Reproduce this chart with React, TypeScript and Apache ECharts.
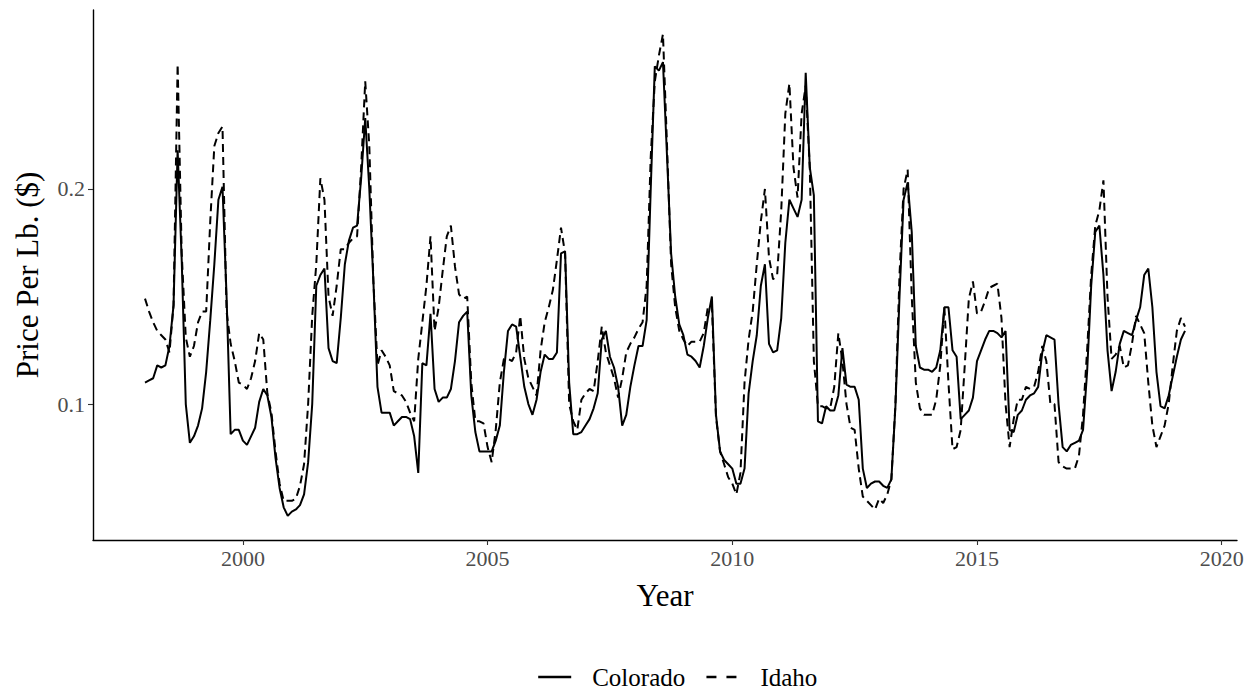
import React, { useEffect, useRef } from "react";
import * as echarts from "echarts";

const START_YEAR = 1998;
const SERIES_NAMES = ["Colorado", "Idaho"];
const X_TICKS = [2000, 2005, 2010, 2015, 2020];
const Y_TICKS = [0.1, 0.2];

// Monthly prices, Jan 1998 - Apr 2019
const coloradoPrices = [
  0.110, 0.111, 0.112, 0.118, 0.117, 0.118, 0.127, 0.146, 0.218, 0.167, 0.100, 0.082,
  0.085, 0.090, 0.098, 0.115, 0.139, 0.165, 0.195, 0.201, 0.150, 0.086, 0.088, 0.088,
  0.083, 0.081, 0.085, 0.089, 0.101, 0.107, 0.104, 0.094, 0.075, 0.061, 0.052, 0.048,
  0.050, 0.051, 0.053, 0.058, 0.073, 0.100, 0.155, 0.160, 0.163, 0.126, 0.120, 0.119,
  0.140, 0.165, 0.176, 0.182, 0.183, 0.205, 0.233, 0.200, 0.157, 0.108, 0.096, 0.096,
  0.096, 0.090, 0.092, 0.094, 0.094, 0.093, 0.085, 0.068, 0.119, 0.118, 0.142, 0.107,
  0.101, 0.103, 0.103, 0.107, 0.120, 0.138, 0.141, 0.143, 0.104, 0.087, 0.078, 0.078,
  0.078, 0.078, 0.083, 0.090, 0.115, 0.134, 0.137, 0.136, 0.122, 0.108, 0.100, 0.095,
  0.102, 0.115, 0.123, 0.121, 0.121, 0.124, 0.170, 0.171, 0.110, 0.086, 0.086, 0.087,
  0.090, 0.093, 0.098, 0.105, 0.130, 0.134, 0.122, 0.117, 0.108, 0.090, 0.095, 0.108,
  0.118, 0.127, 0.127, 0.139, 0.200, 0.257, 0.255, 0.259, 0.215, 0.170, 0.150, 0.137,
  0.132, 0.123, 0.122, 0.120, 0.117, 0.127, 0.140, 0.150, 0.095, 0.078, 0.074, 0.072,
  0.070, 0.063, 0.063, 0.070, 0.105, 0.120, 0.132, 0.155, 0.165, 0.128, 0.124, 0.125,
  0.140, 0.175, 0.195, 0.191, 0.187, 0.195, 0.254, 0.210, 0.197, 0.092, 0.091, 0.099,
  0.097, 0.097, 0.104, 0.126, 0.109, 0.108, 0.108, 0.102, 0.070, 0.061, 0.063, 0.064,
  0.064, 0.062, 0.061, 0.065, 0.099, 0.150, 0.195, 0.203, 0.180, 0.127, 0.117, 0.116,
  0.116, 0.115, 0.117, 0.125, 0.145, 0.145, 0.125, 0.122, 0.093, 0.095, 0.097, 0.103,
  0.120, 0.125, 0.130, 0.134, 0.134, 0.133, 0.131, 0.134, 0.088, 0.087, 0.095, 0.097,
  0.102, 0.104, 0.105, 0.108, 0.124, 0.132, 0.131, 0.130, 0.100, 0.080, 0.078, 0.081,
  0.082, 0.083, 0.088, 0.115, 0.155, 0.180, 0.183, 0.160, 0.125, 0.106, 0.115, 0.128,
  0.134, 0.133, 0.132, 0.139, 0.145, 0.160, 0.163, 0.145, 0.115, 0.099, 0.098, 0.104,
  0.113, 0.122, 0.130, 0.134,
];

const idahoPrices = [
  0.149, 0.143, 0.138, 0.134, 0.132, 0.130, 0.124, 0.146, 0.258, 0.170, 0.131, 0.122,
  0.127, 0.138, 0.143, 0.143, 0.185, 0.220, 0.226, 0.229, 0.143, 0.128, 0.120, 0.110,
  0.109, 0.107, 0.112, 0.120, 0.133, 0.130, 0.105, 0.096, 0.078, 0.063, 0.055, 0.055,
  0.055, 0.056, 0.062, 0.072, 0.100, 0.141, 0.165, 0.205, 0.195, 0.150, 0.141, 0.155,
  0.172, 0.172, 0.175, 0.177, 0.178, 0.210, 0.250, 0.220, 0.157, 0.118, 0.125, 0.122,
  0.118, 0.106, 0.105, 0.104, 0.101, 0.096, 0.092, 0.121, 0.138, 0.155, 0.178, 0.134,
  0.145, 0.162, 0.178, 0.183, 0.164, 0.151, 0.149, 0.150, 0.110, 0.092, 0.092, 0.091,
  0.080, 0.073, 0.088, 0.110, 0.121, 0.121, 0.120, 0.124, 0.141, 0.121, 0.112, 0.108,
  0.104, 0.125, 0.138, 0.145, 0.153, 0.167, 0.182, 0.170, 0.100, 0.092, 0.088, 0.102,
  0.105, 0.107, 0.106, 0.120, 0.136, 0.124, 0.118, 0.112, 0.103, 0.112, 0.124, 0.128,
  0.131, 0.135, 0.138, 0.155, 0.215, 0.250, 0.262, 0.272, 0.220, 0.165, 0.145, 0.134,
  0.130, 0.127, 0.129, 0.129, 0.129, 0.133, 0.145, 0.146, 0.094, 0.078, 0.072, 0.066,
  0.063, 0.058, 0.068, 0.110, 0.130, 0.143, 0.165, 0.185, 0.200, 0.168, 0.158, 0.160,
  0.190, 0.235, 0.249, 0.210, 0.196, 0.235, 0.248, 0.210, 0.120, 0.099, 0.099, 0.098,
  0.098, 0.108, 0.133, 0.120, 0.100, 0.089, 0.088, 0.070, 0.057, 0.055, 0.053, 0.051,
  0.056, 0.054, 0.058, 0.065, 0.100, 0.160, 0.200, 0.209, 0.150, 0.110, 0.098, 0.095,
  0.095, 0.095, 0.102, 0.118, 0.145, 0.110, 0.079, 0.080, 0.088, 0.118, 0.149, 0.157,
  0.142, 0.143, 0.148, 0.154, 0.155, 0.156, 0.140, 0.100, 0.080, 0.093, 0.102, 0.102,
  0.108, 0.107, 0.108, 0.115, 0.127, 0.120, 0.100, 0.100, 0.073, 0.071, 0.070, 0.070,
  0.070, 0.076, 0.095, 0.125, 0.160, 0.183, 0.190, 0.204, 0.150, 0.121, 0.123, 0.127,
  0.117, 0.118, 0.128, 0.141, 0.137, 0.133, 0.110, 0.090, 0.080, 0.085, 0.090, 0.100,
  0.118, 0.134, 0.140, 0.136,
];

const FONT = "'Liberation Serif', 'DejaVu Serif', serif";

export default function App() {
  const ref = useRef<HTMLDivElement>(null);

  useEffect(() => {
    if (!ref.current) return;
    const chart = echarts.init(ref.current, null, { renderer: "svg" });
    const toPairs = (arr: number[]) => arr.map((v, i) => [START_YEAR + i / 12, v]);
    const allVals = coloradoPrices.concat(idahoPrices);
    const yMinData = Math.min(...allVals);
    const yMaxData = Math.max(...allVals);
    const yPad = (yMaxData - yMinData) * 0.05;
    const xMinData = START_YEAR;
    const xMaxData = START_YEAR + (coloradoPrices.length - 1) / 12;
    const xPad = (xMaxData - xMinData) * 0.05;

    chart.setOption({
      animation: false,
      backgroundColor: "#ffffff",
      grid: { left: 93, right: 19, top: 10, bottom: 150, containLabel: false },
      legend: {
        data: [
          { name: SERIES_NAMES[0], lineStyle: { type: "solid" } },
          { name: SERIES_NAMES[1], lineStyle: { type: [10, 10] } },
        ],
        top: 659,
        left: 532,
        itemWidth: 33,
        itemHeight: 14,
        itemGap: 20,
        itemStyle: { opacity: 0, borderWidth: 0 },
        lineStyle: { width: 2.4, color: "#000" },
        textStyle: {
          fontFamily: FONT,
          fontSize: 25,
          lineHeight: 26,
          color: "#000",
          padding: [0, 0, 0, 16],
        },
      },
      xAxis: {
        type: "value",
        min: xMinData - xPad,
        max: xMaxData + xPad,
        name: "Year",
        nameLocation: "middle",
        nameGap: 40,
        nameTextStyle: { fontFamily: FONT, fontSize: 31, color: "#000" },
        axisLine: { show: true, lineStyle: { color: "#000", width: 1.4 } },
        axisTick: { show: true, length: 5, customValues: X_TICKS, lineStyle: { color: "#333", width: 1.1 } },
        axisLabel: {
          customValues: X_TICKS,
          fontFamily: FONT,
          fontSize: 22,
          color: "#4d4d4d",
          margin: 7,
          formatter: (v: number) => String(Math.round(v)),
        },
        splitLine: { show: false },
      },
      yAxis: {
        type: "value",
        min: yMinData - yPad,
        max: yMaxData + yPad,
        name: "Price Per Lb. ($)",
        nameLocation: "middle",
        nameGap: 50,
        nameTextStyle: { fontFamily: FONT, fontSize: 31, color: "#000" },
        axisLine: { show: true, lineStyle: { color: "#000", width: 1.4 } },
        axisTick: { show: true, length: 5, customValues: Y_TICKS, lineStyle: { color: "#333", width: 1.1 } },
        axisLabel: {
          customValues: Y_TICKS,
          fontFamily: FONT,
          fontSize: 22,
          color: "#4d4d4d",
          margin: 8,
          formatter: (v: number) => String(Math.round(v * 10) / 10),
        },
        splitLine: { show: false },
      },
      series: [
        {
          name: SERIES_NAMES[0],
          type: "line",
          data: toPairs(coloradoPrices),
          showSymbol: false,
          symbol: "none",
          lineStyle: { color: "#000", width: 2, type: "solid" },
          itemStyle: { color: "#000" },
        },
        {
          name: SERIES_NAMES[1],
          type: "line",
          data: toPairs(idahoPrices),
          showSymbol: false,
          symbol: "none",
          lineStyle: { color: "#000", width: 2, type: [8, 5] },
          itemStyle: { color: "#000" },
        },
      ],
    });
    return () => chart.dispose();
  }, []);

  return (
    <div
      ref={ref}
      style={{ position: "absolute", left: 0, top: 0, width: 1256, height: 690, background: "#fff" }}
    />
  );
}
